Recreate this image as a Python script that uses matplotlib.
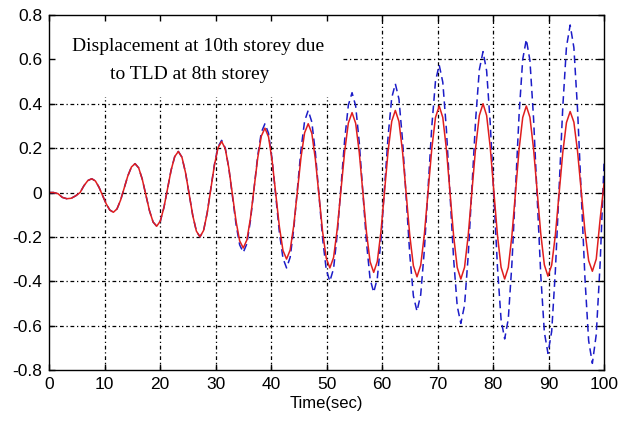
import matplotlib
matplotlib.use("Agg")
import matplotlib.pyplot as plt
from matplotlib.patches import Rectangle

# ---- data ----
time_s = [0, 0.8, 1.6, 2.4, 3.2, 4.0, 4.8, 5.6, 6.3, 7.0,
          7.7, 8.35, 9.0, 9.65, 10.3, 10.95,
          11.6, 12.25, 12.9, 13.55, 14.2, 14.85,
          15.5, 16.15, 16.8, 17.45, 18.1, 18.75,
          19.4, 20.05, 20.7, 21.35, 22.0, 22.65,
          23.3, 23.95, 24.6, 25.25, 25.9, 26.55,
          27.2, 27.85, 28.5, 29.15, 29.8, 30.45,
          31.1, 31.75, 32.4, 33.05, 33.7, 34.35,
          35.0, 35.65, 36.3, 36.95, 37.6, 38.25,
          38.9, 39.55, 40.2, 40.85, 41.5, 42.15,
          42.8, 43.45, 44.1, 44.75, 45.4, 46.05,
          46.7, 47.35, 48.0, 48.65, 49.3, 49.95,
          50.6, 51.27, 51.93, 52.6, 53.27, 53.93,
          54.6, 55.25, 55.9, 56.55, 57.2, 57.85,
          58.5, 59.15, 59.8, 60.45, 61.1, 61.75,
          62.4, 63.05, 63.7, 64.35, 65.0, 65.65,
          66.3, 66.97, 67.63, 68.3, 68.97, 69.63,
          70.3, 70.95, 71.6, 72.25, 72.9, 73.55,
          74.2, 74.87, 75.53, 76.2, 76.87, 77.53,
          78.2, 78.85, 79.5, 80.15, 80.8, 81.45,
          82.1, 82.75, 83.4, 84.05, 84.7, 85.35,
          86.0, 86.65, 87.3, 87.95, 88.6, 89.25,
          89.9, 90.57, 91.23, 91.9, 92.57, 93.23,
          93.9, 94.57, 95.23, 95.9, 96.57, 97.23,
          97.9, 98.6, 99.3, 100.0]

# displacement with TLD (red, solid)
disp_tld = [0, 0, -0.005, -0.022, -0.028, -0.026, -0.015, 0.0, 0.031, 0.054,
            0.062, 0.052, 0.024, -0.014, -0.051, -0.079,
            -0.089, -0.074, -0.034, 0.021, 0.075, 0.115,
            0.130, 0.111, 0.060, -0.011, -0.082, -0.133,
            -0.152, -0.129, -0.068, 0.017, 0.101, 0.162,
            0.185, 0.159, 0.089, -0.008, -0.104, -0.174,
            -0.200, -0.171, -0.093, 0.015, 0.123, 0.201,
            0.230, 0.198, 0.110, -0.010, -0.130, -0.218,
            -0.250, -0.214, -0.115, 0.020, 0.155, 0.254,
            0.290, 0.251, 0.143, -0.005, -0.153, -0.261,
            -0.300, -0.259, -0.148, 0.005, 0.158, 0.269,
            0.310, 0.267, 0.148, -0.015, -0.178, -0.296,
            -0.340, -0.293, -0.165, 0.010, 0.185, 0.313,
            0.360, 0.312, 0.180, 0.000, -0.180, -0.312,
            -0.360, -0.311, -0.178, 0.005, 0.188, 0.321,
            0.370, 0.320, 0.183, -0.005, -0.193, -0.330,
            -0.380, -0.328, -0.188, 0.005, 0.198, 0.338,
            0.390, 0.338, 0.195, 0.000, -0.195, -0.338,
            -0.390, -0.337, -0.193, 0.005, 0.203, 0.347,
            0.400, 0.347, 0.203, 0.005, -0.193, -0.337,
            -0.390, -0.338, -0.195, 0.000, 0.195, 0.338,
            0.390, 0.339, 0.198, 0.007, -0.185, -0.326,
            -0.377, -0.327, -0.192, -0.006, 0.180, 0.315,
            0.365, 0.317, 0.185, 0.005, -0.175, -0.307,
            -0.355, -0.300, -0.120, 0.040]

# displacement without TLD (blue, dashed)
disp_none = [0, 0, -0.005, -0.022, -0.028, -0.026, -0.015, 0.0, 0.031, 0.054,
             0.062, 0.052, 0.024, -0.014, -0.051, -0.079,
             -0.089, -0.074, -0.034, 0.021, 0.075, 0.115,
             0.130, 0.111, 0.060, -0.011, -0.082, -0.133,
             -0.152, -0.129, -0.068, 0.017, 0.101, 0.162,
             0.185, 0.159, 0.089, -0.008, -0.104, -0.174,
             -0.200, -0.171, -0.091, 0.018, 0.126, 0.206,
             0.235, 0.201, 0.109, -0.018, -0.144, -0.236,
             -0.270, -0.231, -0.125, 0.020, 0.165, 0.271,
             0.310, 0.267, 0.148, -0.015, -0.178, -0.296,
             -0.340, -0.292, -0.163, 0.015, 0.193, 0.322,
             0.370, 0.318, 0.178, -0.015, -0.208, -0.348,
             -0.400, -0.343, -0.188, 0.025, 0.238, 0.393,
             0.450, 0.390, 0.225, 0.000, -0.225, -0.390,
             -0.450, -0.387, -0.215, 0.020, 0.255, 0.427,
             0.490, 0.421, 0.234, -0.023, -0.279, -0.466,
             -0.535, -0.461, -0.258, 0.020, 0.298, 0.501,
             0.575, 0.497, 0.284, -0.008, -0.299, -0.512,
             -0.590, -0.508, -0.284, 0.023, 0.329, 0.553,
             0.635, 0.548, 0.311, -0.013, -0.336, -0.573,
             -0.660, -0.570, -0.323, 0.015, 0.353, 0.600,
             0.690, 0.595, 0.336, -0.018, -0.371, -0.630,
             -0.725, -0.626, -0.355, 0.015, 0.385, 0.656,
             0.755, 0.653, 0.374, -0.008, -0.389, -0.668,
             -0.770, -0.640, -0.320, 0.130]

x_ticks = [0, 10, 20, 30, 40, 50, 60, 70, 80, 90, 100]
y_ticks = [-0.8, -0.6, -0.4, -0.2, 0, 0.2, 0.4, 0.6, 0.8]
y_tick_labels = ["-0.8", "-0.6", "-0.4", "-0.2", "0", "0.2", "0.4", "0.6", "0.8"]
title_lines = ["Displacement at 10th storey due", "to TLD at 8th storey"]
x_label = "Time(sec)"

plt.rcParams['font.family'] = ['Liberation Sans', 'DejaVu Sans']

fig = plt.figure(figsize=(6.19, 4.25), dpi=100)
ax = fig.add_axes([0.0792, 0.1294, 0.8966, 0.8353])

ax.plot(time_s, disp_none, color='#1c1cc8', lw=1.1, ls=(0, (5, 3)), zorder=3)
ax.plot(time_s, disp_tld, color='#e01e1e', lw=1.1, zorder=4)

ax.set_xlim(0, 100)
ax.set_ylim(-0.8, 0.8)
ax.set_xticks(x_ticks)
ax.set_xticklabels([str(v) for v in x_ticks])
ax.set_yticks(y_ticks)
ax.set_yticklabels(y_tick_labels)
ax.tick_params(direction='in', length=4, width=1, top=True, right=True,
               labelsize=12.5, pad=5, colors='black')
ax.set_axisbelow(False)

# grid lines at the tick positions, below the annotation box
grid_style = dict(color='black', lw=0.9, ls=(0, (3, 2.2, 1, 2.2)), zorder=1)
for xv in x_ticks[1:-1]:
    ax.axvline(xv, **grid_style)
for yv in y_ticks[1:-1]:
    ax.axhline(yv, **grid_style)

for sp in ax.spines.values():
    sp.set_linewidth(1.0)
    sp.set_zorder(6)

ax.add_patch(Rectangle((0, 0.43), 53, 0.37, facecolor='white', edgecolor='none', zorder=2))
ax.text(26.9, 0.656, title_lines[0], ha='center', va='center',
        family=['Liberation Serif', 'DejaVu Serif'], fontsize=14, zorder=5)
ax.text(25.4, 0.530, title_lines[1], ha='center', va='center',
        family=['Liberation Serif', 'DejaVu Serif'], fontsize=14, zorder=5)

ax.set_xlabel(x_label, fontsize=12, labelpad=3)

fig.savefig("out.png", dpi=100)
